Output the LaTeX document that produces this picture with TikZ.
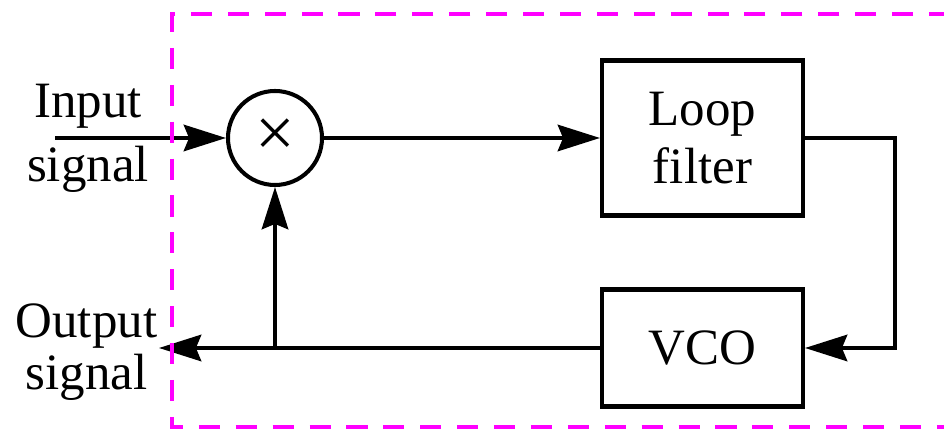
\documentclass[tikz,border=0pt]{standalone}
\usepackage{fontspec}
\setmainfont{Liberation Serif}
\usetikzlibrary{arrows.meta}
\definecolor{frame}{RGB}{255,0,255}

\begin{document}
\begin{tikzpicture}[
        block/.style = {draw, line width=2.3pt, minimum width=4.02cm, minimum height=3.1cm, align=center},
        sig/.style = {line width=2.3pt, -{Stealth[length=24pt, width=15pt, inset=3pt]}},
        font=\fontsize{29}{33}\selectfont
    ]
        \useasboundingbox (0, 0) rectangle (18.88, 8.58);
        \node[draw, circle, line width=2.3pt, minimum size=1.88cm, inner sep=0pt] (mix) at (5.5, 5.82)
            {\fontsize{40}{40}\selectfont ×};
        \node[block] (lf) at (14.05, 5.82) {Loop\\filter};
        \node[block, minimum height=2.34cm] (vco) at (14.05, 1.62) {VCO};
        \node[align=center] (inlbl) at (1.76, 5.81) {Input\\[3.4pt]signal};
        \node[align=center] (outlbl) at (1.73, 1.54) {Output\\[-3pt]signal};
        \coordinate (in) at (1.1, 5.82);
        \coordinate (out) at (3.18, 1.62);
        \coordinate (ne) at (17.9, 5.82);
        \coordinate (se) at (17.9, 1.62);
        \coordinate (tap) at (5.5, 1.62);
        \draw[sig] (in) -- (mix);
        \draw[sig] (mix) -- (lf);
        \draw[sig] (lf.east) -- (ne) -- (se) -- (vco.east);
        \draw[sig] (vco) -- (out);
        \draw[sig] (tap) -- (mix);
        % dashed frame, open on the right
        \draw[frame, line width=2.8pt, dash pattern=on 12pt off 9pt] (19, 8.3) -- (3.44, 8.3) -- (3.44, 0.04) -- (19, 0.04);
    \end{tikzpicture}
\end{document}
